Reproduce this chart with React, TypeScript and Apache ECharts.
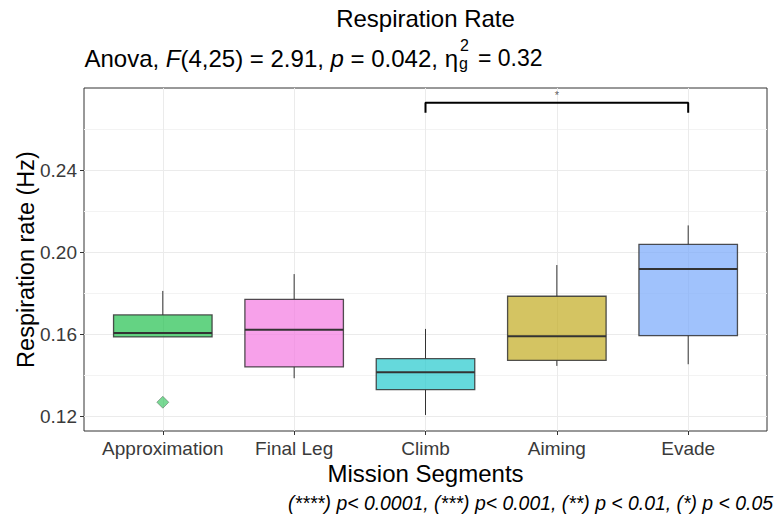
import React, { useEffect, useRef } from "react";
import * as echarts from "echarts";

const categories = ["Approximation", "Final Leg", "Climb", "Aiming", "Evade"];
const whiskerLow = [0.1588, 0.1387, 0.1208, 0.1447, 0.1455];
const q1 = [0.1588, 0.1442, 0.1331, 0.1474, 0.1594];
const median = [0.1607, 0.1623, 0.1416, 0.1591, 0.1919];
const q3 = [0.1695, 0.1771, 0.1482, 0.1786, 0.2039];
const whiskerHigh = [0.1812, 0.1894, 0.1627, 0.1938, 0.2131];
const outliers = [[0, 0.127]];
const fills = [
  "rgba(34,192,79,0.7)",
  "rgba(244,121,225,0.7)",
  "rgba(35,201,205,0.7)",
  "rgba(194,171,32,0.7)",
  "rgba(119,168,251,0.7)",
];
const yMajorTicks = [0.12, 0.16, 0.2, 0.24];
const yMinorTicks = [0.14, 0.18, 0.22, 0.26];
const xTicks = [0, 1, 2, 3, 4];
const bracketFrom = 2;
const bracketTo = 4;
const bracketY = 0.2728;
const bracketTipY = 0.2679;
const bracketLabel = "*";

const FONT = "'Liberation Sans', Arial, sans-serif";
const TICK_COLOR = "#3a3a3a";

export default function App() {
  const ref = useRef<HTMLDivElement>(null);
  useEffect(() => {
    document.body.style.margin = "0";
    const chart = echarts.init(ref.current!, null, { renderer: "svg" });
    const boxData = categories.map((c, i) => [i, whiskerLow[i], q1[i], median[i], q3[i], whiskerHigh[i]]);
    const option: any = {
      animation: false,
      backgroundColor: "#fff",
      textStyle: { fontFamily: FONT },
      title: [
        {
          text: "Respiration Rate",
          left: 425.5,
          top: 6,
          padding: 0,
          textAlign: "center",
          textStyle: { fontSize: 24, fontWeight: "normal", color: "#000", fontFamily: FONT },
        },
      ],
      grid: { left: 84, right: 9, top: 88, bottom: 89, show: true, borderColor: "#333", borderWidth: 1, backgroundColor: "transparent" },
      xAxis: {
        type: "value",
        min: -0.6,
        max: 4.6,
        name: "Mission Segments",
        nameLocation: "middle",
        nameGap: 30,
        nameMoveOverlap: false,
        nameTextStyle: { fontSize: 24, color: "#000", fontFamily: FONT },
        axisLine: { show: false, onZero: false },
        axisTick: { show: true, length: 4, customValues: xTicks, lineStyle: { color: "#333" } },
        axisLabel: {
          customValues: xTicks,
          formatter: (v: number) => categories[Math.round(v)] ?? "",
          fontSize: 19,
          color: TICK_COLOR,
          margin: 8,
          fontFamily: FONT,
        },
        splitLine: { show: true, lineStyle: { color: "#ebebeb", width: 1 } },
      },
      yAxis: [
        {
          type: "value",
          min: 0.113,
          max: 0.28,
          name: "Respiration rate (Hz)",
          nameLocation: "middle",
          nameGap: 46,
          nameMoveOverlap: false,
          nameTextStyle: { fontSize: 23.5, color: "#000", fontFamily: FONT },
          axisLine: { show: false, onZero: false },
          axisTick: { show: true, length: 4, customValues: yMajorTicks, lineStyle: { color: "#333" } },
          axisLabel: {
            customValues: yMajorTicks,
            formatter: (v: number) => v.toFixed(2),
            fontSize: 19,
            color: TICK_COLOR,
            margin: 7,
            fontFamily: FONT,
          },
          splitLine: { show: true, lineStyle: { color: "#ebebeb", width: 1 } },
          z: 1,
        },
        {
          type: "value",
          min: 0.113,
          max: 0.28,
          position: "left",
          axisLine: { show: false, onZero: false },
          axisTick: { show: false, customValues: yMinorTicks },
          axisLabel: { show: false, customValues: yMinorTicks },
          splitLine: { show: true, lineStyle: { color: "#f3f3f3", width: 1 } },
          z: 0,
        },
      ],
      graphic: [
        {
          type: "text",
          x: 458,
          y: 58,
          style: {
            text: "Anova, {i|F}(4,25) = 2.91, {i|p} = 0.042, η",
            align: "right",
            verticalAlign: "middle",
            fill: "#000",
            fontSize: 24,
            fontFamily: FONT,
            rich: {
              i: { fontStyle: "italic", fontSize: 24, fontFamily: FONT, fill: "#000" },
            },
          },
        },
        {
          type: "text",
          x: 459,
          y: 63,
          style: { text: "g", align: "left", verticalAlign: "middle", fill: "#000", fontSize: 16, fontFamily: FONT },
        },
        {
          type: "text",
          x: 460,
          y: 45,
          style: { text: "2", align: "left", verticalAlign: "middle", fill: "#000", fontSize: 16, fontFamily: FONT },
        },
        {
          type: "text",
          x: 478,
          y: 58,
          style: { text: "= 0.32", align: "left", verticalAlign: "middle", fill: "#000", fontSize: 23, fontFamily: FONT },
        },
        {
          type: "text",
          x: 773,
          y: 503,
          style: {
            text: "(****) p< 0.0001, (***) p< 0.001, (**) p < 0.01, (*) p < 0.05",
            align: "right",
            verticalAlign: "middle",
            fill: "#000",
            fontSize: 19.4,
            fontStyle: "italic",
            fontFamily: FONT,
          },
        },
      ],
      series: [
        {
          type: "custom",
          data: boxData,
          encode: { x: 0, y: [1, 2, 3, 4, 5] },
          z: 3,
          renderItem: (params: any, api: any) => {
            const x = api.value(0);
            const lo = api.coord([x, api.value(1)]);
            const b1 = api.coord([x, api.value(2)]);
            const md = api.coord([x, api.value(3)]);
            const b3 = api.coord([x, api.value(4)]);
            const hi = api.coord([x, api.value(5)]);
            const w = api.size([0.75, 0])[0];
            const idx = params.dataIndex;
            return {
              type: "group",
              children: [
                { type: "line", shape: { x1: lo[0], y1: b1[1], x2: lo[0], y2: lo[1] }, style: { stroke: "#333", lineWidth: 1 } },
                { type: "line", shape: { x1: hi[0], y1: b3[1], x2: hi[0], y2: hi[1] }, style: { stroke: "#333", lineWidth: 1 } },
                {
                  type: "rect",
                  shape: { x: md[0] - w / 2, y: b3[1], width: w, height: b1[1] - b3[1] },
                  style: { fill: fills[idx], stroke: "rgba(51,51,51,0.85)", lineWidth: 1.3 },
                },
                {
                  type: "line",
                  shape: { x1: md[0] - w / 2, y1: md[1], x2: md[0] + w / 2, y2: md[1] },
                  style: { stroke: "#333", lineWidth: 2 },
                },
              ],
            };
          },
        },
        {
          type: "scatter",
          data: outliers,
          symbol: "diamond",
          symbolSize: 12,
          itemStyle: { color: "rgba(34,192,79,0.75)", borderColor: "rgba(51,51,51,0.45)", borderWidth: 1 },
          z: 4,
        },
        {
          type: "line",
          data: [
            [bracketFrom, bracketTipY],
            [bracketFrom, bracketY],
            [bracketTo, bracketY],
            [bracketTo, bracketTipY],
          ],
          symbol: "none",
          lineStyle: { color: "#000", width: 2 },
          z: 5,
        },
        {
          type: "scatter",
          data: [[(bracketFrom + bracketTo) / 2, bracketY]],
          symbolSize: 0,
          label: {
            show: true,
            formatter: bracketLabel,
            position: "top",
            distance: 2,
            fontSize: 11,
            color: "#333",
            fontFamily: FONT,
          },
          z: 5,
        },
      ],
    };
    chart.setOption(option);
    return () => chart.dispose();
  }, []);
  return <div ref={ref} style={{ width: 776, height: 520 }} />;
}
